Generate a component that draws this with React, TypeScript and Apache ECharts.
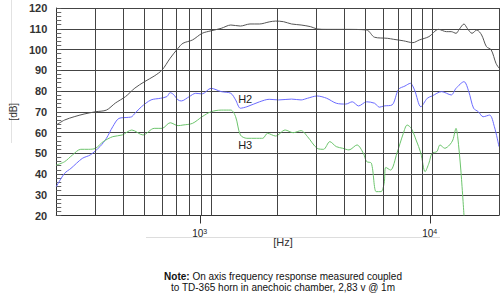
import React, { useEffect, useRef } from "react";
import * as echarts from "echarts";

// ---- data (frequency in Hz, level in dB) ----
const freqMin = 200;
const freqMax = 20000;
const dbMin = 20;
const dbMax = 120;
const dbStep = 10;
const gridFrequencies = [300, 400, 500, 600, 700, 800, 900, 1000, 2000, 3000, 4000, 5000, 6000, 7000, 8000, 9000, 10000, 20000];
const decadeTicks = [1000, 10000];
const decadeExponents: Record<number, string> = { 1000: "3", 10000: "4" };

const fundamental: [number, number][] = [
  [200, 63.6], [218, 66], [241, 67.6], [267, 68.9], [301, 70], [337, 70.8], [370, 74.2], [411, 77.3],
  [453, 81.4], [501, 84.5], [554, 87.2], [601, 90.1], [654, 95.8], [710, 100.6], [747, 103], [825, 104.6],
  [912, 107.8], [1000, 109], [1112, 110.2], [1229, 111.8], [1358, 111.3], [1500, 112.3], [1658, 112.3],
  [1832, 113.3], [1958, 113.7], [2127, 113.4], [2310, 112.3], [2553, 111.8], [2819, 111], [3015, 109.9],
  [3331, 109.7], [3680, 109.7], [4065, 109.7], [5047, 109.4], [5483, 105.9], [6260, 105.4], [6692, 104.9],
  [7394, 104.2], [8168, 103.3], [8733, 104.6], [9647, 106.2], [10659, 109.7], [11578, 108.6], [12170, 108.6],
  [12793, 107.8], [13222, 109.7], [13897, 112.3], [14375, 110.2], [15108, 107.8], [15880, 109.4],
  [16692, 107], [17546, 101.4], [18447, 99.8], [19387, 93.3], [20000, 91],
];

const h2: [number, number][] = [
  [200, 33.9], [218, 40.3], [233, 42.7], [262, 47.5], [285, 49.2], [315, 53.2], [337, 57.2], [360, 62.8],
  [384, 66.8], [424, 67.3], [439, 67.6], [453, 69.2], [485, 72.4], [536, 75.7], [592, 76.5], [632, 77.3],
  [654, 79.2], [676, 78.4], [710, 75.7], [734, 75.2], [798, 77.3], [853, 78.9], [912, 78.6], [1000, 81.3],
  [1112, 79.7], [1229, 78.9], [1292, 75.7], [1358, 71.7], [1452, 72.4], [1658, 74.8], [1832, 76],
  [2023, 75.7], [2310, 76.1], [2553, 75.7], [2729, 76.5], [3015, 77.6], [3331, 76.5], [3680, 74.1],
  [4065, 73.7], [4346, 74.8], [4642, 72.8], [5047, 74.8], [5483, 74.1], [5763, 72.2], [6057, 72.8],
  [6580, 73.3], [7035, 80.8], [7520, 82.4], [7951, 83.7], [8308, 80.5], [8874, 72.4], [9486, 76.5],
  [9970, 77.6], [11015, 79.7], [12170, 78.1], [12793, 81.3], [13897, 84.5], [14606, 79.7], [15351, 71.7],
  [16136, 70], [16960, 67.6], [18139, 68.4], [19063, 62.8], [20000, 53.2],
];

const h3: [number, number][] = [
  [200, 44.3], [218, 45.9], [237, 49.2], [258, 51.9], [280, 51.9], [301, 52.4], [326, 55.6], [360, 58],
  [397, 58.8], [439, 61.2], [493, 58.8], [554, 62], [601, 62], [654, 64.7], [710, 63.3], [747, 63.6],
  [825, 64.4], [912, 67.6], [1000, 70], [1112, 70.8], [1229, 70.8], [1292, 67.6], [1358, 58.8],
  [1452, 57.2], [1604, 57.2], [1713, 57.2], [1801, 59.6], [1958, 58.3], [2163, 61.2], [2350, 59.9],
  [2553, 60.9], [2729, 58], [3015, 52.4], [3224, 51.9], [3442, 55.6], [3680, 53.2], [3934, 52.4],
  [4201, 51.6], [4567, 54], [4879, 50], [5047, 46], [5304, 45.2], [5576, 31.5], [5861, 31.5], [6057, 35.5],
  [6161, 43.2], [6476, 41.9], [6917, 50], [7394, 59.6], [7694, 63.6], [8032, 62], [8442, 56.4], [8874, 50],
  [9271, 41.1], [9647, 45.2], [9970, 50], [10479, 50.8], [10830, 54], [11384, 52.4], [11966, 54],
  [12378, 56.4], [12793, 62], [13013, 58], [13448, 41.9], [13897, 20],
];

const curveLabels = [
  { text: "H2", freq: 1427, db: 76.1 },
  { text: "H3", freq: 1427, db: 54 },
];

const noteLines = [
  "{b|Note:} On axis frequency response measured coupled",
  "to TD-365 horn in anechoic chamber, 2,83 v @ 1m",
];

const FONT = "'Liberation Sans', Arial, sans-serif";

export default function App() {
  const ref = useRef<HTMLDivElement>(null);

  useEffect(() => {
    document.body.style.margin = "0";
    const chart = echarts.init(ref.current!, undefined, { renderer: "svg" });

    const labelPoint = (l: { text: string; freq: number; db: number }) => ({
      coord: [l.freq, l.db],
      symbol: "circle",
      symbolSize: 0,
      label: {
        show: true,
        position: "inside",
        formatter: l.text,
        color: "#222",
        fontSize: 11,
        fontFamily: FONT,
      },
    });

    chart.setOption({
      animation: false,
      backgroundColor: "#fff",
      textStyle: { fontFamily: FONT },
      grid: [
        { left: 39, right: 1, top: 8, bottom: 78.5, containLabel: false },
        { left: 39, right: 1, top: 215.5, height: 8, containLabel: false },
      ],
      xAxis: [
        {
          type: "log",
          logBase: 10,
          min: freqMin,
          max: freqMax,
          gridIndex: 0,
          axisLine: { show: true, lineStyle: { color: "#333", width: 1 } },
          axisTick: { show: false },
          splitLine: { show: false },
          axisLabel: { show: false },
        },
        {
          type: "log",
          logBase: 10,
          min: freqMin,
          max: freqMax,
          gridIndex: 1,
          axisLine: { show: false },
          axisTick: { show: false },
          splitLine: { show: false },
          axisLabel: {
            show: true,
            showMinLabel: false,
            showMaxLabel: false,
            margin: 4,
            formatter: (v: number) => {
              const key = Math.round(v);
              return decadeExponents[key] ? `{b|10}{s|${decadeExponents[key]}}` : "";
            },
            rich: {
              b: { fontSize: 10, color: "#222", fontFamily: FONT, lineHeight: 12 },
              s: { fontSize: 7, color: "#222", fontFamily: FONT, verticalAlign: "top", lineHeight: 12 },
            },
          },
        },
      ],
      yAxis: [
        {
          type: "value",
          min: dbMin,
          max: dbMax,
          interval: dbStep,
          gridIndex: 0,
          name: "[dB]",
          nameLocation: "middle",
          nameGap: 36,
          nameTextStyle: { fontSize: 10, color: "#333", fontFamily: FONT },
          axisLine: { show: true, lineStyle: { color: "#333", width: 1 } },
          axisTick: { show: true, inside: true, length: 5, lineStyle: { color: "#555" } },
          minorTick: { show: true, splitNumber: 5, length: 5, lineStyle: { color: "#666" } },
          splitLine: { show: true, lineStyle: { color: "#444", width: 1 } },
          axisLabel: { fontSize: 11, fontWeight: "bold", color: "#333", margin: 9 },
        },
        { type: "value", min: 0, max: 1, gridIndex: 1, show: false },
      ],
      series: [
        {
          type: "line",
          data: [],
          z: 1,
          silent: true,
          markLine: {
            silent: true,
            symbol: "none",
            label: { show: false },
            lineStyle: { color: "#444", width: 1, type: "solid" },
            data: gridFrequencies.map((f) => ({ xAxis: f })),
          },
        },
        {
          type: "line",
          data: fundamental,
          z: 3,
          showSymbol: false,
          smooth: 0.3,
          lineStyle: { color: "#555", width: 1 },
        },
        {
          type: "line",
          data: h2,
          z: 3,
          showSymbol: false,
          smooth: 0.3,
          lineStyle: { color: "#6b6bff", width: 1 },
          markPoint: { silent: true, data: [labelPoint(curveLabels[0])] },
        },
        {
          type: "line",
          data: h3,
          z: 3,
          showSymbol: false,
          smooth: 0.3,
          lineStyle: { color: "#6cc46c", width: 1 },
          markPoint: { silent: true, data: [labelPoint(curveLabels[1])] },
        },
        {
          type: "line",
          xAxisIndex: 1,
          yAxisIndex: 1,
          data: [],
          silent: true,
          markLine: {
            silent: true,
            symbol: "none",
            label: { show: false },
            lineStyle: { color: "#333", width: 1, type: "solid" },
            data: decadeTicks.map((f) => ({ xAxis: f })),
          },
        },
      ],
      graphic: [
        { type: "line", shape: { x1: 146, y1: 237.5, x2: 440, y2: 237.5 }, style: { stroke: "#ddd", lineWidth: 1 }, silent: true },
        { type: "line", shape: { x1: 11.5, y1: 0, x2: 11.5, y2: 143 }, style: { stroke: "#e2e2e2", lineWidth: 1 }, silent: true },
        {
          type: "text",
          x: 283,
          y: 242,
          style: { text: "[Hz]", fontSize: 11, fill: "#333", align: "center", verticalAlign: "middle", fontFamily: FONT },
          silent: true,
        },
        {
          type: "text",
          x: 283,
          y: 282,
          style: {
            text: noteLines.join("\n"),
            fontSize: 10,
            lineHeight: 11,
            fill: "#111",
            align: "center",
            verticalAlign: "middle",
            fontFamily: FONT,
            rich: { b: { fontWeight: "bold", fontSize: 10, fill: "#111", fontFamily: FONT } },
          },
          silent: true,
        },
      ],
    });

    return () => chart.dispose();
  }, []);

  return (
    <div
      ref={ref}
      style={{ position: "absolute", left: 0, top: 0, width: 500, height: 294, background: "#fff" }}
    />
  );
}
